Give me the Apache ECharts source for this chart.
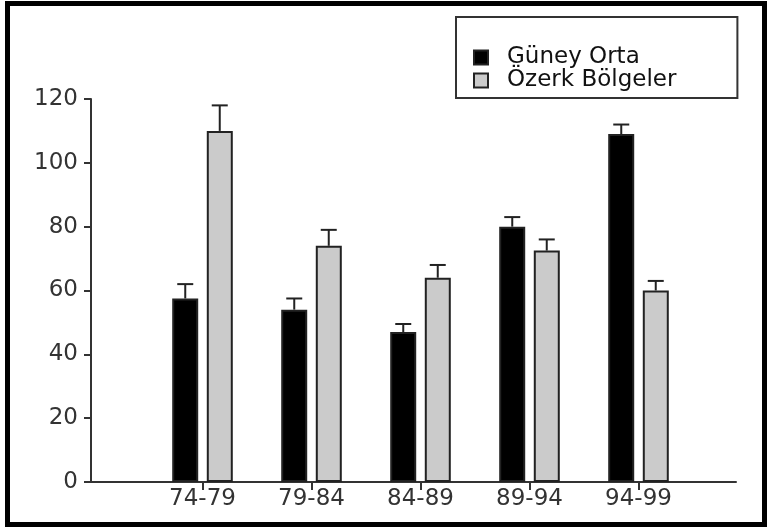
<!DOCTYPE html>
<html>
<head>
<meta charset="utf-8">
<script src="https://cdn.jsdelivr.net/npm/echarts@6/dist/echarts.min.js"></script>
<style>
html,body{margin:0;padding:0;background:#fff;}
#wrap{position:relative;width:772px;height:527px;}
#chart{position:absolute;left:0;top:0;width:772px;height:527px;}
#frame{position:absolute;left:5px;top:1px;width:762px;height:526px;box-sizing:border-box;border:5px solid #000;pointer-events:none;}
</style>
</head>
<body>
<div id="wrap"><div id="chart"></div><div id="frame"></div></div>
<script>
// ---- data ----
const categories = ['74-79', '79-84', '84-89', '89-94', '94-99'];
const seriesNames = ['Güney Orta', 'Özerk Bölgeler'];
const guneyOrta = [57.5, 54, 47, 80, 109];
const guneyOrtaErr = [4.5, 3.5, 2.5, 3, 3];
const ozerk = [110, 74, 64, 72.5, 60];
const ozerkErr = [8, 5, 4, 3.5, 3];
const yTicks = [0, 20, 40, 60, 80, 100, 120];

// ---- styling ----
const FONT = 'DejaVu Sans';
const BAR_W = 26;
const OFFSET = 17.25;

function errSeries(values, errs, offset) {
  return {
    type: 'custom',
    xAxisIndex: 0, yAxisIndex: 0,
    z: 5,
    silent: true,
    data: values.map((v, i) => [i, v, v + errs[i]]),
    renderItem: function (params, api) {
      const p0 = api.coord([api.value(0), api.value(1)]);
      const p1 = api.coord([api.value(0), api.value(2)]);
      const x = p0[0] + offset;
      const st = { stroke: '#222', lineWidth: 2 };
      return {
        type: 'group',
        children: [
          { type: 'line', shape: { x1: x, y1: p0[1], x2: x, y2: p1[1] }, style: st },
          { type: 'line', shape: { x1: x - 8, y1: p1[1], x2: x + 8, y2: p1[1] }, style: st }
        ]
      };
    }
  };
}

const chart = echarts.init(document.getElementById('chart'), null, { renderer: 'canvas' });
chart.setOption({
  backgroundColor: '#fff',
  animation: false,
  legend: {
    orient: 'vertical',
    left: 456, top: 17,
    padding: [29, 61, 6, 17],
    itemGap: 0,
    itemWidth: 14, itemHeight: 14,
    icon: 'rect',
    borderColor: '#333', borderWidth: 2,
    textStyle: { fontFamily: FONT, fontSize: 23, color: '#111', padding: [0, 0, 0, 14] },
    data: seriesNames
  },
  grid: [
    { left: 148, width: 545, top: 99, bottom: 45 },
    { left: 91, right: 36, top: 99, bottom: 45 }
  ],
  xAxis: [
    {
      type: 'category', gridIndex: 0, data: categories,
      axisLine: { show: true, lineStyle: { color: '#333', width: 2 } },
      axisTick: { show: true, alignWithLabel: true, length: 8, lineStyle: { color: '#333', width: 2 } },
      axisLabel: { fontFamily: FONT, fontSize: 23, color: '#333', margin: 6 }
    },
    {
      type: 'value', gridIndex: 1, min: 0, max: 1,
      axisLine: { show: true, onZero: false, lineStyle: { color: '#333', width: 2 } },
      axisTick: { show: false }, axisLabel: { show: false }, splitLine: { show: false }
    }
  ],
  yAxis: [
    { type: 'value', gridIndex: 0, min: 0, max: 120, interval: 20, show: false, splitLine: { show: false } },
    {
      type: 'value', gridIndex: 1, min: yTicks[0], max: yTicks[yTicks.length - 1], interval: 20,
      axisLine: { show: true, lineStyle: { color: '#333', width: 2 } },
      axisTick: { show: true, length: 7, lineStyle: { color: '#333', width: 2 } },
      axisLabel: { fontFamily: FONT, fontSize: 23, color: '#333', margin: 13 },
      splitLine: { show: false }
    }
  ],
  series: [
    {
      name: seriesNames[0], type: 'bar', xAxisIndex: 0, yAxisIndex: 0,
      barWidth: BAR_W, barGap: '33%',
      itemStyle: { color: '#000', borderColor: '#222', borderWidth: 2 },
      data: guneyOrta
    },
    {
      name: seriesNames[1], type: 'bar', xAxisIndex: 0, yAxisIndex: 0,
      barWidth: BAR_W, barGap: '33%',
      itemStyle: { color: '#cbcbcb', borderColor: '#222', borderWidth: 2 },
      data: ozerk
    },
    errSeries(guneyOrta, guneyOrtaErr, -OFFSET),
    errSeries(ozerk, ozerkErr, OFFSET)
  ]
});
</script>
</body>
</html>
